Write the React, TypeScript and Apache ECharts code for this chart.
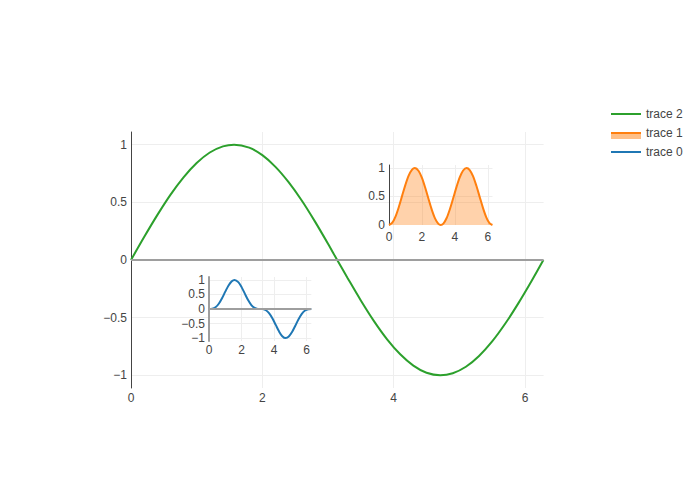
import React, { useEffect, useRef } from 'react';
import * as echarts from 'echarts';

// x samples (0 .. 2π)
const xValues = [0, 0.2, 0.4, 0.6, 0.8, 1.0, 1.2, 1.4, 1.57, 1.8, 2.0, 2.2, 2.4, 2.6, 2.8, 3.0, 3.14, 3.3, 3.5, 3.7, 3.9, 4.1, 4.3, 4.5, 4.71, 4.9, 5.1, 5.3, 5.5, 5.7, 5.9, 6.1, 6.28];

// trace 2 (main plot, green)
const trace2 = [0, 0.199, 0.389, 0.565, 0.717, 0.841, 0.932, 0.985, 1.0, 0.974, 0.909, 0.808, 0.675, 0.516, 0.335, 0.141, 0, -0.158, -0.351, -0.53, -0.688, -0.818, -0.916, -0.978, -1.0, -0.982, -0.926, -0.832, -0.706, -0.551, -0.374, -0.182, 0];

// trace 1 (top-right inset, orange filled)
const trace1 = [0, 0.04, 0.152, 0.319, 0.515, 0.708, 0.869, 0.971, 1.0, 0.948, 0.826, 0.653, 0.456, 0.266, 0.112, 0.02, 0, 0.025, 0.123, 0.281, 0.473, 0.669, 0.839, 0.956, 1.0, 0.964, 0.857, 0.692, 0.498, 0.304, 0.14, 0.033, 0];

// trace 0 (lower-left inset, blue)
const trace0 = [0, 0.008, 0.059, 0.18, 0.369, 0.596, 0.81, 0.955, 1.0, 0.924, 0.752, 0.528, 0.308, 0.137, 0.038, 0.003, 0, -0.004, -0.043, -0.149, -0.326, -0.547, -0.769, -0.935, -1.0, -0.947, -0.794, -0.576, -0.352, -0.167, -0.052, -0.006, 0];

const xTicks = [0, 2, 4, 6];
const yTicksMain = [-1, -0.5, 0, 0.5, 1];
const yTicksInset1 = [0, 0.5, 1];
const yTicksInset2 = [-1, -0.5, 0, 0.5, 1];

const legendNames = ['trace 2', 'trace 1', 'trace 0'];

const XMAX = 6.283185307179586;

const fmtFrom = (ticks: number[]) => (v: number) => {
  const t = ticks.find((k) => Math.abs(k - v) < 1e-6);
  if (t === undefined) return '';
  return t < 0 ? '\u2212' + Math.abs(t) : String(t);
};

const pairs = (ys: number[]) => xValues.map((x, i) => [x, ys[i]]);

const FONT = "'Liberation Sans', Arial, sans-serif";
const TXT = '#444';
const GRIDC = '#eeeeee';

export default function App() {
  const ref = useRef<HTMLDivElement>(null);
  useEffect(() => {
    if (!ref.current) return;
    const chart = echarts.init(ref.current, undefined, { renderer: 'svg' });
    const labelStyle = { color: TXT, fontSize: 12, fontFamily: FONT };
    const xAxisBase = (gridIndex: number, margin: number) => ({
      type: 'value',
      gridIndex,
      min: 0,
      max: XMAX,
      interval: 2,
      axisLine: { show: false },
      axisTick: { show: false },
      splitLine: { show: true, showMinLine: false, showMaxLine: false, lineStyle: { color: GRIDC, width: 1 } },
      axisLabel: { ...labelStyle, margin, formatter: fmtFrom(xTicks) },
    });
    const yAxisBase = (gridIndex: number, min: number, max: number, split: number, ticks: number[], lineColor: string, lineWidth: number) => ({
      type: 'value',
      gridIndex,
      min,
      max,
      splitNumber: split,
      axisLine: { show: true, onZero: false, lineStyle: { color: lineColor, width: lineWidth } },
      axisTick: { show: false },
      splitLine: { show: true, showMinLine: false, showMaxLine: false, lineStyle: { color: GRIDC, width: 1 } },
      axisLabel: { ...labelStyle, margin: 4, lineHeight: 12, formatter: fmtFrom(ticks) },
    });
    const zeroLine = {
      silent: true,
      symbol: ['none', 'none'],
      label: { show: false },
      lineStyle: { color: '#9e9e9e', width: 2, type: 'solid' },
      data: [{ yAxis: 0 }],
    };
    chart.setOption({
      animation: false,
      backgroundColor: '#fff',
      textStyle: { fontFamily: FONT },
      grid: [
        { left: 131, top: 132, width: 412.6, height: 256 },
        { left: 389, top: 165, width: 103.5, height: 60 },
        { left: 209, top: 277, width: 102.3, height: 64 },
      ],
      xAxis: [xAxisBase(0, 4), xAxisBase(1, 6), xAxisBase(2, 3)],
      yAxis: [
        yAxisBase(0, -1.11, 1.11, 5, yTicksMain, '#444', 1),
        yAxisBase(1, 0, 1.0526, 2, yTicksInset1, '#444', 1),
        yAxisBase(2, -1.1, 1.1, 5, yTicksInset2, '#9e9e9e', 2),
      ],
      legend: {
        orient: 'vertical',
        left: 611,
        top: 108,
        padding: 0,
        itemWidth: 30,
        itemHeight: 14,
        itemGap: 7,
        itemTextGap: 5,
        textStyle: { color: TXT, fontSize: 12, fontFamily: FONT },
        data: [
          { name: legendNames[0], icon: 'path://M0,0H30V2H0Z', itemStyle: { color: '#2ca02c' } },
          { name: legendNames[1], icon: 'path://M0,0H30V2H0Z', itemStyle: { color: '#ff7f0e' } },
          { name: legendNames[2], icon: 'path://M0,0H30V2H0Z', itemStyle: { color: '#1f77b4' } },
        ],
      },
      graphic: [
        { type: 'rect', left: 611, top: 133.5, shape: { width: 30, height: 5.5 }, style: { fill: '#ffbf86' }, z: 0, silent: true },
      ],
      series: [
        {
          name: 'trace 0',
          type: 'line',
          xAxisIndex: 2,
          yAxisIndex: 2,
          data: pairs(trace0),
          smooth: 0.3,
          symbol: 'none',
          lineStyle: { color: '#1f77b4', width: 2 },
          itemStyle: { color: '#1f77b4' },
          markLine: zeroLine,
          z: 3,
        },
        {
          name: 'trace 1',
          type: 'line',
          xAxisIndex: 1,
          yAxisIndex: 1,
          data: pairs(trace1),
          smooth: 0.3,
          symbol: 'none',
          lineStyle: { color: '#ff7f0e', width: 2 },
          itemStyle: { color: '#ff7f0e' },
          areaStyle: { color: 'rgba(255,127,14,0.5)', origin: 'start' },
          z: 3,
        },
        {
          name: 'trace 2',
          type: 'line',
          xAxisIndex: 0,
          yAxisIndex: 0,
          data: pairs(trace2),
          smooth: 0.3,
          symbol: 'none',
          lineStyle: { color: '#2ca02c', width: 2 },
          itemStyle: { color: '#2ca02c' },
          markLine: zeroLine,
          z: 2,
        },
      ],
    });
    return () => chart.dispose();
  }, []);
  return <div ref={ref} style={{ width: 700, height: 500, position: 'absolute', left: 0, top: 0 }} />;
}
